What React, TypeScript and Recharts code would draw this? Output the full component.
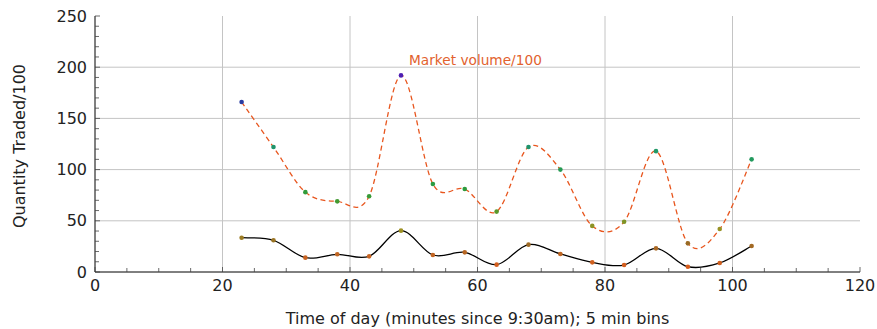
import React from 'react';
import { LineChart, Line, XAxis, YAxis, CartesianGrid } from 'recharts';

// 5-minute bins, minutes since 9:30am
const minutes = [23, 28, 33, 38, 43, 48, 53, 58, 63, 68, 73, 78, 83, 88, 93, 98, 103];
// Total market volume in the bin, divided by 100
const marketVolume = [166, 122, 78, 69, 74, 192, 86, 81, 59, 122, 100, 45, 49, 118, 28, 42, 110];
// Quantity we traded in the bin, divided by 100
const quantityTraded = [33.5, 31, 14, 17.3, 15.3, 40.4, 16.6, 19.2, 7.2, 26.7, 17.6, 9.4, 6.8, 23.1, 5.2, 8.8, 25.4];

const xTicks = [0, 5, 10, 15, 20, 25, 30, 35, 40, 45, 50, 55, 60, 65, 70, 75, 80, 85, 90, 95, 100, 105, 110, 115, 120];
const xMajor = [0, 20, 40, 60, 80, 100, 120];
const xGrid = [20, 40, 60, 80, 100];
const yTicks = [0, 10, 20, 30, 40, 50, 60, 70, 80, 90, 100, 110, 120, 130, 140, 150, 160, 170, 180, 190, 200, 210, 220, 230, 240, 250];
const yMajor = [0, 50, 100, 150, 200, 250];
const yGrid = [50, 100, 150, 200];

const rows = minutes.map((m, i) => ({ minute: m, market: marketVolume[i], traded: quantityTraded[i] }));

const FONT = 'DejaVu Sans';
const TICK_COLOR = '#444';
const GRID_COLOR = '#c4c4c4';

// Point colour by value: orange (low) -> olive -> green -> blue -> violet (high)
const colorStops: [number, [number, number, number]][] = [
  [5, [214, 92, 28]],
  [15, [200, 100, 34]],
  [28, [152, 106, 36]],
  [40, [160, 145, 36]],
  [60, [84, 152, 42]],
  [80, [44, 156, 60]],
  [120, [30, 152, 104]],
  [166, [42, 60, 162]],
  [192, [78, 30, 178]],
];
const colorFor = (v: number) => {
  if (v <= colorStops[0][0]) return `rgb(${colorStops[0][1].join(',')})`;
  for (let i = 1; i < colorStops.length; i++) {
    const [v1, c1] = colorStops[i];
    const [v0, c0] = colorStops[i - 1];
    if (v <= v1) {
      const t = (v - v0) / (v1 - v0);
      const c = c0.map((a, k) => Math.round(a + (c1[k] - a) * t));
      return `rgb(${c.join(',')})`;
    }
  }
  return `rgb(${colorStops[colorStops.length - 1][1].join(',')})`;
};

// Catmull-Rom style smooth curve through every point
const smoothCurve = (context: any) => {
  let pts: [number, number][] = [];
  return {
    areaStart() {},
    areaEnd() {},
    lineStart() {
      pts = [];
    },
    point(x: number, y: number) {
      pts.push([+x, +y]);
    },
    lineEnd() {
      const n = pts.length;
      if (!n) return;
      context.moveTo(pts[0][0], pts[0][1]);
      for (let i = 0; i < n - 1; i++) {
        const p0 = pts[Math.max(i - 1, 0)];
        const p1 = pts[i];
        const p2 = pts[i + 1];
        const p3 = pts[Math.min(i + 2, n - 1)];
        context.bezierCurveTo(
          p1[0] + (p2[0] - p0[0]) / 6,
          p1[1] + (p2[1] - p0[1]) / 6,
          p2[0] - (p3[0] - p1[0]) / 6,
          p2[1] - (p3[1] - p1[1]) / 6,
          p2[0],
          p2[1]
        );
      }
    },
  };
};

const BottomTick = (props: any) => {
  const { x, y, payload } = props;
  const major = xMajor.includes(payload.value);
  return (
    <g>
      <line x1={x} x2={x} y1={y} y2={y - (major ? 5 : 4)} stroke={TICK_COLOR} strokeWidth={0.8} />
      {major && (
        <text x={x} y={y + 18.5} textAnchor="middle" fontFamily={FONT} fontSize={16} fill="#222">
          {payload.value}
        </text>
      )}
    </g>
  );
};

const TopTick = (props: any) => {
  const { x, y, payload } = props;
  const major = xMajor.includes(payload.value);
  return <line x1={x} x2={x} y1={y} y2={y + (major ? 5 : 4)} stroke={TICK_COLOR} strokeWidth={0.8} />;
};

const LeftTick = (props: any) => {
  const { x, y, payload } = props;
  const major = yMajor.includes(payload.value);
  return (
    <g>
      <line x1={x} x2={x + (major ? 5 : 4)} y1={y} y2={y} stroke={TICK_COLOR} strokeWidth={0.8} />
      {major && (
        <text x={x - 8} y={y + 5.5} textAnchor="end" fontFamily={FONT} fontSize={16} fill="#222">
          {payload.value}
        </text>
      )}
    </g>
  );
};

const RightTick = (props: any) => {
  const { x, y, payload } = props;
  const major = yMajor.includes(payload.value);
  return <line x1={x} x2={x - (major ? 5 : 4)} y1={y} y2={y} stroke={TICK_COLOR} strokeWidth={0.8} />;
};

const makeDot = (key: string) => (p: any) => (
  <circle key={`${key}-${p.index}`} cx={p.cx} cy={p.cy} r={2.3} fill={colorFor(p.payload[key])} stroke="none" />
);

const peakIndex = marketVolume.indexOf(Math.max(...marketVolume));

const MarketLabel = (p: any) =>
  p.index === peakIndex ? (
    <text key="market-label" x={p.x + 8} y={p.y - 10} fontFamily={FONT} fontSize={13.7} fill="#e2622e">
      Market volume/100
    </text>
  ) : null;

export default function App() {
  return (
    <div style={{ position: 'absolute', left: 0, top: 0, background: '#fff' }}>
      <LineChart width={877} height={329} data={rows} margin={{ top: 16, right: 17, bottom: 0, left: 0 }}>
        <CartesianGrid stroke={GRID_COLOR} strokeWidth={1} horizontalValues={yGrid} verticalValues={xGrid} />
        <XAxis
          dataKey="minute"
          type="number"
          domain={[0, 120]}
          allowDataOverflow
          ticks={xTicks}
          interval={0}
          height={57}
          tickSize={0}
          tickMargin={0}
          tickLine={false}
          tick={<BottomTick />}
          axisLine={{ stroke: '#000', strokeWidth: 1 }}
          label={({ viewBox }: any) => (
            <text
              x={viewBox.x + viewBox.width / 2}
              y={viewBox.y + 52}
              textAnchor="middle"
              fontFamily={FONT}
              fontSize={16}
              fill="#222"
            >
              Time of day (minutes since 9:30am); 5 min bins
            </text>
          )}
        />
        <XAxis
          xAxisId="top"
          orientation="top"
          dataKey="minute"
          type="number"
          domain={[0, 120]}
          allowDataOverflow
          ticks={xTicks}
          interval={0}
          height={0}
          tickSize={0}
          tickMargin={0}
          tickLine={false}
          tick={<TopTick />}
          axisLine={{ stroke: '#000', strokeWidth: 1 }}
        />
        <YAxis
          type="number"
          domain={[0, 250]}
          allowDataOverflow
          ticks={yTicks}
          interval={0}
          width={95}
          tickSize={0}
          tickMargin={0}
          tickLine={false}
          tick={<LeftTick />}
          axisLine={{ stroke: '#000', strokeWidth: 1 }}
          label={({ viewBox }: any) => {
            const cx = viewBox.x + 25;
            const cy = viewBox.y + viewBox.height / 2 + 2;
            return (
              <text
                x={cx}
                y={cy}
                textAnchor="middle"
                transform={`rotate(-90 ${cx} ${cy})`}
                fontFamily={FONT}
                fontSize={16}
                fill="#222"
              >
                Quantity Traded/100
              </text>
            );
          }}
        />
        <YAxis
          yAxisId="right"
          orientation="right"
          type="number"
          domain={[0, 250]}
          allowDataOverflow
          ticks={yTicks}
          interval={0}
          width={0}
          tickSize={0}
          tickMargin={0}
          tickLine={false}
          tick={<RightTick />}
          axisLine={{ stroke: '#000', strokeWidth: 1 }}
        />
        <Line
          dataKey="traded"
          type={smoothCurve as any}
          stroke="#000"
          strokeWidth={1.3}
          dot={makeDot('traded')}
          activeDot={false}
          isAnimationActive={false}
        />
        <Line
          dataKey="market"
          type={smoothCurve as any}
          stroke="#e8561e"
          strokeWidth={1.3}
          strokeDasharray="5 3.5"
          dot={makeDot('market')}
          activeDot={false}
          label={MarketLabel}
          isAnimationActive={false}
        />
      </LineChart>
    </div>
  );
}
